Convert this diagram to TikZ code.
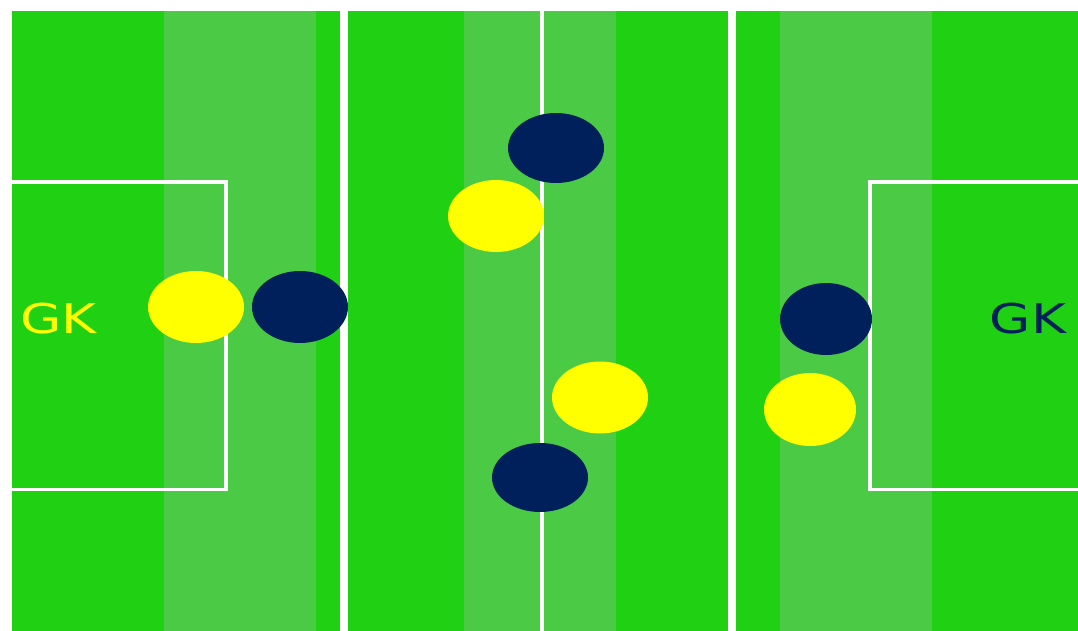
\documentclass[tikz,border=0pt]{standalone}
\usepackage{fontspec}
\newfontfamily\gkfont{DejaVu Sans}
\usetikzlibrary{shapes.geometric}
\definecolor{grassdark}{RGB}{31,209,18}
\definecolor{grasslight}{RGB}{75,203,69}
\definecolor{navyteam}{RGB}{0,32,91}
\definecolor{yellowteam}{RGB}{255,255,0}
\tikzset{
  stripedark/.style={fill=grassdark, draw=none},
  stripelight/.style={fill=grasslight, draw=none},
  pitchline/.style={draw=white, line width=3.5pt},
  player/.style={ellipse, draw=none, inner sep=0pt, minimum width=96pt, minimum height=72pt},
  yplayer/.style={player, fill=yellowteam},
  nplayer/.style={player, fill=navyteam},
  gklabel/.style={inner sep=0pt, font=\gkfont\fontsize{41}{41}\selectfont}
}
\begin{document}
\begin{tikzpicture}[x=1pt, y=-1pt]
\useasboundingbox (0,0) rectangle (1078,631);
\fill[white] (0,0) rectangle (1078,631);
% left panel
\fill[stripedark]  (12,11) rectangle (164,631);
\fill[stripelight] (164,11) rectangle (316,631);
\fill[stripedark]  (316,11) rectangle (340,631);
% middle panel
\fill[stripedark]  (348,11) rectangle (464,631);
\fill[stripelight] (464,11) rectangle (616,631);
\fill[stripedark]  (616,11) rectangle (728,631);
% right panel
\fill[stripedark]  (736,11) rectangle (780,631);
\fill[stripelight] (780,11) rectangle (932,631);
\fill[stripedark]  (932,11) rectangle (1078,631);
% lines
\draw[pitchline] (12,182) -- (226,182) -- (226,489.5) -- (12,489.5);
\draw[pitchline, line width=4pt] (542,11) -- (542,631);
\draw[pitchline] (1078,182) -- (870,182) -- (870,489.5) -- (1078,489.5);
% players
\node[yplayer] (y1) at (196,307) {};
\node[nplayer] (n1) at (300,307) {};
\node[nplayer, minimum height=70pt] (n2) at (556,148) {};
\node[yplayer] (y2) at (496,216) {};
\node[yplayer] (y3) at (600,397.5) {};
\node[nplayer, minimum height=69pt] (n3) at (540,477.5) {};
\node[nplayer, minimum width=92pt] (n4) at (826,319) {};
\node[yplayer, minimum width=92pt, minimum height=73pt] (y4) at (810,409.5) {};
% labels
\node[gklabel, text=yellowteam] (gkl) at (58.5,319) {\scalebox{1.3}[1]{GK}};
\node[gklabel, text=navyteam] (gkr) at (1028,319) {\scalebox{1.3}[1]{GK}};
\end{tikzpicture}
\end{document}
